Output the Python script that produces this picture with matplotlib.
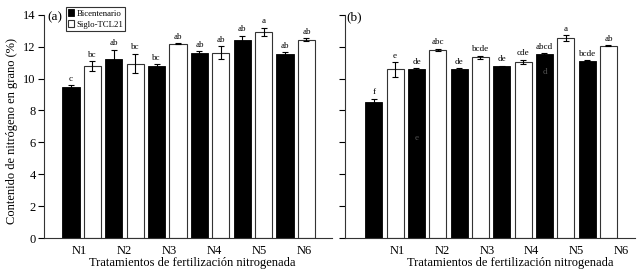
import matplotlib
matplotlib.use('Agg')
import matplotlib.pyplot as plt
import numpy as np

plt.rcParams['font.family'] = ['Liberation Serif', 'DejaVu Serif']

tratamientos = ['N1', 'N2', 'N3', 'N4', 'N5', 'N6']

# panel (a)
a_bic = [9.45, 11.22, 10.82, 11.63, 12.45, 11.55]
a_bic_err = [0.15, 0.58, 0.07, 0.08, 0.23, 0.10]
a_sig = [10.78, 10.94, 12.20, 11.63, 12.92, 12.45]
a_sig_err = [0.30, 0.62, 0.03, 0.40, 0.28, 0.10]
a_bic_let = ['c', 'ab', 'bc', 'ab', 'ab', 'ab']
a_sig_let = ['bc', 'bc', 'ab', 'ab', 'a', 'ab']

# panel (b)
b_bic = [8.53, 10.57, 10.60, 10.78, 11.55, 11.12]
b_bic_err = [0.20, 0.10, 0.06, 0.04, 0.04, 0.03]
b_sig = [10.57, 11.80, 11.33, 11.06, 12.55, 12.06]
b_sig_err = [0.45, 0.07, 0.10, 0.13, 0.18, 0.04]
b_bic_let = ['f', 'de', 'de', 'de', 'abcd', 'bcde']
b_sig_let = ['e', 'abc', 'bcde', 'cde', 'a', 'ab']

fig = plt.figure(figsize=(6.42, 2.69), dpi=100)
ax1 = fig.add_axes([0.0685, 0.115, 0.4485, 0.83])
ax2 = fig.add_axes([0.537, 0.115, 0.452, 0.83])


def panel(ax, bic, bic_err, sig, sig_err, bl, sl, xlim, lab_start):
    idx = np.arange(len(bic))
    xb = idx * 2
    xs = idx * 2 + 1
    ax.bar(xb, bic, 0.8, color='black', edgecolor='black', lw=0.6,
           yerr=bic_err, error_kw=dict(ecolor='black', elinewidth=0.8, capsize=2.5, capthick=0.8),
           label='Bicentenario')
    ax.bar(xs, sig, 0.8, color='white', edgecolor='#333333', lw=0.8,
           yerr=sig_err, error_kw=dict(ecolor='black', elinewidth=0.8, capsize=2.5, capthick=0.8),
           label='Siglo-TCL21')
    for i in idx:
        ax.text(xb[i], bic[i] + bic_err[i] + 0.15, bl[i], ha='center', va='bottom', fontsize=6.5)
        ax.text(xs[i], sig[i] + sig_err[i] + 0.15, sl[i], ha='center', va='bottom', fontsize=6.5)
    ax.set_ylim(0, 14)
    ax.set_xlim(*xlim)
    ax.set_yticks(range(0, 15, 2))
    ax.set_xticks(lab_start + idx * 2.1)
    ax.set_xticklabels(tratamientos, fontsize=9)
    ax.tick_params(axis='x', length=0, pad=5)
    ax.tick_params(axis='y', direction='out', length=4, width=0.8, labelsize=9, pad=2)
    for s in ['top', 'right']:
        ax.spines[s].set_visible(False)
    for s in ['left', 'bottom']:
        ax.spines[s].set_linewidth(0.8)
        ax.spines[s].set_color('#333333')
    ax.set_xlabel('Tratamientos de fertilización nitrogenada', fontsize=9, labelpad=1)


panel(ax1, a_bic, a_bic_err, a_sig, a_sig_err, a_bic_let, a_sig_let, (-1.26, 12.19), 0.4)
panel(ax2, b_bic, b_bic_err, b_sig, b_sig_err, b_bic_let, b_sig_let, (-1.36, 12.24), 1.1)

ax1.xaxis.set_label_coords(0.514, -0.085)
ax2.xaxis.set_label_coords(0.569, -0.085)

ax2.set_yticklabels([])
ax1.set_ylabel('Contenido de nitrógeno en grano (%)', fontsize=9)
ax1.yaxis.set_label_coords(-0.09, 0.48)

ax1.text(0.012, 0.99, '(a)', transform=ax1.transAxes, fontsize=9.5, va='center')
ax2.text(0.005, 0.99, '(b)', transform=ax2.transAxes, fontsize=9.5, va='center')

# stray letters in panel (b)
ax2.text(2, 6.3, 'e', ha='center', va='center', fontsize=6.5, color='#555555')
ax2.text(8, 10.4, 'd', ha='center', va='center', fontsize=6.5, color='#555555')

leg = ax1.legend(loc='upper left', bbox_to_anchor=(0.076, 1.035), fontsize=6.3,
                 handlelength=0.7, handleheight=0.9, handletextpad=0.25,
                 borderpad=0.25, labelspacing=0.25, borderaxespad=0,
                 fancybox=False, framealpha=1)
leg.get_frame().set_edgecolor('#333333')
leg.get_frame().set_linewidth(0.8)

fig.savefig('out.png', dpi=100)
